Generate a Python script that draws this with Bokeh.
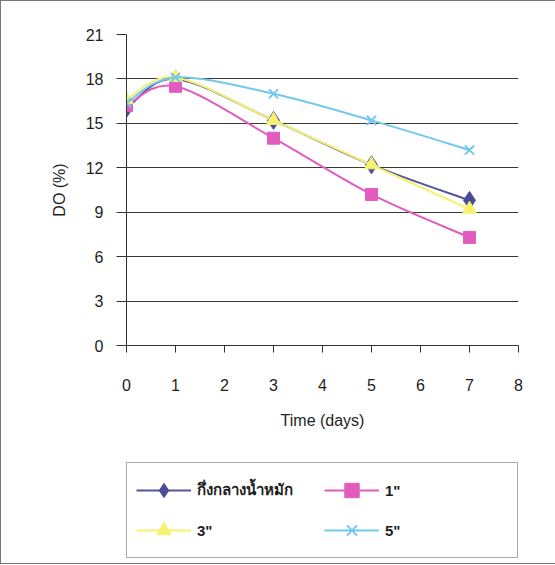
from bokeh.plotting import figure
from bokeh.layouts import column
from bokeh.models import Range1d, FixedTicker, Legend, LegendItem, ColumnDataSource
from bokeh.embed import file_html
from bokeh.resources import INLINE

# ---- data ----
days = [0, 1, 3, 5, 7]
series_names = ["กึ่งกลางน้ำหมัก", '1"', '3"', '5"']
do_middle = [16.0, 18.0, 15.2, 12.2, 9.8]
do_1in = [16.2, 17.5, 14.0, 10.2, 7.3]
do_3in = [16.6, 18.1, 15.2, 12.2, 9.2]
do_5in = [16.4, 18.1, 17.0, 15.2, 13.2]
x_ticks = [0, 1, 2, 3, 4, 5, 6, 7, 8]
y_ticks = [0, 3, 6, 9, 12, 15, 18, 21]

FONT = "Liberation Sans"
W = 554

p = figure(width=W, height=452, output_backend="svg", toolbar_location=None,
           x_range=Range1d(0, 8), y_range=Range1d(0, 21),
           min_border_left=125, min_border_right=37, min_border_top=33,
           min_border_bottom=108, outline_line_color=None)

p.xgrid.visible = False
p.ygrid.ticker = FixedTicker(ticks=y_ticks)
p.ygrid.grid_line_color = "#3a3a3a"
p.ygrid.grid_line_width = 1

for ax in (p.xaxis[0], p.yaxis[0]):
    ax.axis_line_color = "#333333"
    ax.major_tick_line_color = "#333333"
    ax.minor_tick_line_color = None
    ax.major_tick_in = 0
    ax.major_label_text_font = FONT
    ax.major_label_text_font_size = "16px"
    ax.major_label_text_color = "#1e1e1e"
    ax.axis_label_text_font = FONT
    ax.axis_label_text_font_size = "16px"
    ax.axis_label_text_font_style = "normal"
    ax.axis_label_text_color = "#1e1e1e"

p.xaxis.ticker = FixedTicker(ticks=x_ticks)
p.xaxis.major_tick_out = 7
p.xaxis.major_label_standoff = 26
p.xaxis.axis_label = "Time (days)"
p.xaxis.axis_label_standoff = 18

p.yaxis.ticker = FixedTicker(ticks=y_ticks)
p.yaxis.major_tick_out = 10
p.yaxis.major_label_standoff = 13
p.yaxis.axis_label = "DO (%)"
p.yaxis.axis_label_standoff = 15


def smooth(xs, ys):
    # Bezier control points (Catmull-Rom style, like a spreadsheet "smoothed line")
    n = len(xs)
    px = [xs[0]] + list(xs) + [xs[-1]]
    py = [ys[0]] + list(ys) + [ys[-1]]
    d = dict(x0=[], y0=[], x1=[], y1=[], cx0=[], cy0=[], cx1=[], cy1=[])
    for i in range(1, n):
        a, b, c, e = i - 1, i, i + 1, i + 2
        d["x0"].append(px[b]); d["y0"].append(py[b])
        d["x1"].append(px[c]); d["y1"].append(py[c])
        d["cx0"].append(px[b] + (px[c] - px[a]) / 6)
        d["cy0"].append(py[b] + (py[c] - py[a]) / 6)
        d["cx1"].append(px[c] - (px[e] - px[b]) / 6)
        d["cy1"].append(py[c] - (py[e] - py[b]) / 6)
    return ColumnDataSource(d)


styles = [
    (do_middle, "#55559e", "diamond", 18, "#4a4a96"),
    (do_1in, "#e25cc0", "square", 12, "#e25cc0"),
    (do_3in, "#f6f270", "triangle", 14, "#f6f270"),
    (do_5in, "#72c8ee", "x", 13, "#72c8ee"),
]

# legend panel: a second figure whose ranges exclude the data (only the legend is seen)
leg_fig = figure(width=W, height=110, output_backend="svg", toolbar_location=None,
                 x_range=Range1d(100, 101), y_range=Range1d(100, 101),
                 min_border=0, outline_line_color=None)
leg_fig.axis.visible = False
leg_fig.grid.visible = False

items = {}
for name, (ys, col, mk, sz, fill) in zip(series_names, styles):
    src = smooth(days, ys)
    p.bezier(x0="x0", y0="y0", x1="x1", y1="y1", cx0="cx0", cy0="cy0",
             cx1="cx1", cy1="cy1", source=src, line_color=col, line_width=2)
    p.scatter(days, ys, marker=mk, size=sz, fill_color=fill,
              line_color=col, line_width=2 if mk == "x" else 1)
    l_line = leg_fig.line(days, ys, line_color=col, line_width=2)
    l_mk = leg_fig.scatter(days, ys, marker=mk, size=sz, fill_color=fill,
                           line_color=col, line_width=2 if mk == "x" else 1)
    items[name] = LegendItem(label=name, renderers=[l_line, l_mk])

# column-major fill: first column = series 1 & 3, second column = series 2 & 4
order = [series_names[0], series_names[2], series_names[1], series_names[3]]
legend = Legend(items=[items[n] for n in order], ncols=2, location=(0, 5),
                glyph_width=55, glyph_height=36, label_height=36,
                label_width=123, label_standoff=6, spacing=4, padding=9,
                label_text_font=FONT, label_text_font_size="15px",
                label_text_font_style="bold", label_text_color="#1e1e1e",
                border_line_color="#555555", border_line_width=1,
                background_fill_alpha=1)
leg_fig.add_layout(legend, "center")

layout = column(p, leg_fig, spacing=0,
                styles={"border-top": "1px solid #777", "border-left": "1px solid #777",
                        "border-bottom": "1px solid #777"})

open("out.html", "w").write(file_html(layout, INLINE))
